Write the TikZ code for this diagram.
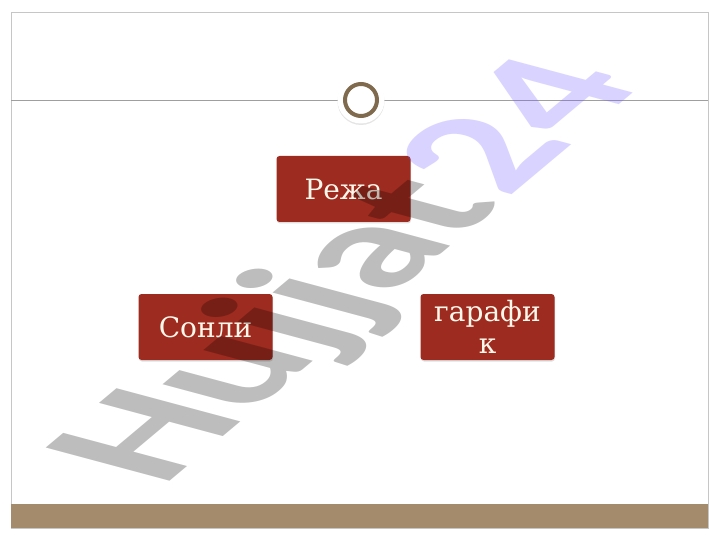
\documentclass[tikz,border=0pt]{standalone}
\usepackage{fontspec}
\setmainfont{DejaVu Serif}
\newfontfamily\wmfont{Carlito}
\usetikzlibrary{shadows}
\definecolor{boxred}{RGB}{158,43,31}
\definecolor{bartan}{RGB}{163,139,108}
\definecolor{ringbrown}{RGB}{128,106,78}
\definecolor{lav}{RGB}{110,85,255}
\definecolor{cream}{RGB}{255,248,235}
\begin{document}
\begin{tikzpicture}[x=1pt,y=-1pt,
  box/.style={rounded corners=3pt, fill=boxred, minimum width=134pt, minimum height=66pt,
    text=cream, font=\fontsize{28}{32}\selectfont, align=center, inner sep=0pt,
    drop shadow={opacity=0.25, shadow xshift=0.5pt, shadow yshift=-1.5pt}},
  wm/.style={transform shape, anchor=base west, inner sep=0pt,
    font=\wmfont\bfseries\fontsize{10}{12}\selectfont, text opacity=0.26}]
\useasboundingbox (0,0) rectangle (720,540);
\fill[white] (0,0) rectangle (720,540);
% frame, rule and bottom bar
\draw[gray!45, line width=0.8pt] (11,12) rectangle (708,528);
\draw[gray!75, line width=0.6pt] (11,100) -- (708,100);
\fill[bartan] (11,504) rectangle (708,528);
% ring
\node[circle, fill=white, minimum size=47pt, inner sep=0pt,
  drop shadow={opacity=0.2, shadow xshift=0pt, shadow yshift=-1.5pt}] (halo) at (361,100) {};
\node[circle, draw=ringbrown, line width=4pt, fill=white, minimum size=32pt, inner sep=0pt] (ring) at (halo.center) {};
% boxes
\node[box] (reja) at (343.5,189) {Режа};
\node[box] (sonli) at (205.5,327) {Сонли};
\node[box] (grafik) at (487.5,327) {гарафи\\к};
% watermark
\begin{scope}[cm={13.6,11.4,-19.1,5.12,(160,490)}]
  \node[wm, text=black] (wm1) at (0,0) {Hujjat};
  \node[wm, text=lav] (wm2) at (wm1.base east) {24};
\end{scope}
\end{tikzpicture}
\end{document}
